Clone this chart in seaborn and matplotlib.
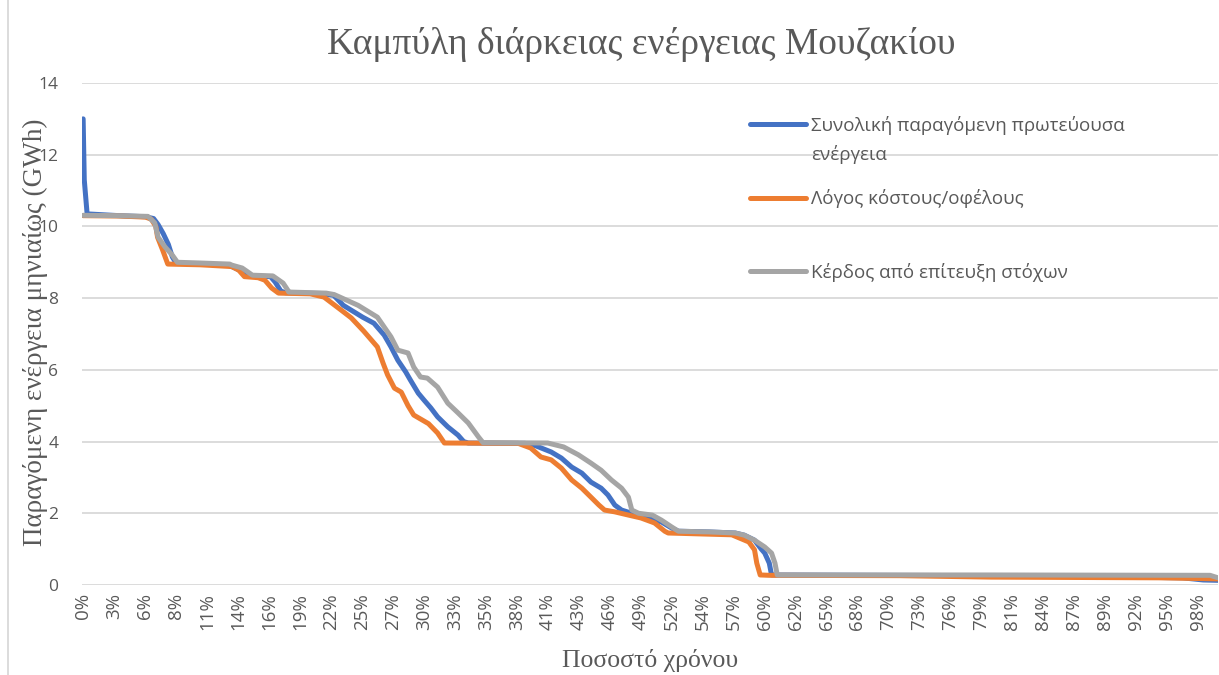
import numpy as np
import pandas as pd
import matplotlib
matplotlib.use("Agg")
import matplotlib.pyplot as plt
from matplotlib.lines import Line2D
import seaborn as sns

# ---------------- data ----------------
series_names = ["Συνολική παραγόμενη πρωτεύουσα",
                "Λόγος κόστους/οφέλους",
                "Κέρδος από επίτευξη στόχων"]
legend_second_line = "ενέργεια"

total_pct = [0.1, 0.2, 0.45, 3.3, 5.6, 6.3, 6.7, 7.15, 7.6, 7.95, 8.3, 10.4, 12.9, 13.6,
             14.5, 14.9, 16.6, 17.0, 17.5, 17.9, 21.0, 22.15, 23.0, 24.7, 25.7, 26.6,
             27.2, 27.8, 28.5, 28.9, 29.6, 30.1, 30.7, 31.3, 32.2, 33.1, 33.6, 34.0,
             39.0, 39.8, 41.3, 42.2, 43.1, 44.0, 44.8, 45.7, 46.3, 46.9, 47.5, 48.4,
             49.2, 51.0, 51.9, 52.5, 55.2, 57.5, 58.3, 59.2, 59.8, 60.1, 60.5, 60.7,
             70.0, 81.0, 90.0, 96.9, 98.7, 100.0]
total_val = [13.0, 11.3, 10.35, 10.30, 10.27, 10.22, 10.05, 9.8, 9.5, 9.15, 8.97, 8.95, 8.92, 8.82,
             8.68, 8.62, 8.60, 8.45, 8.2, 8.15, 8.13, 8.08, 7.8, 7.47, 7.3, 6.97,
             6.64, 6.27, 5.94, 5.72, 5.35, 5.16, 4.94, 4.69, 4.41, 4.18, 4.0, 3.96,
             3.95, 3.9, 3.71, 3.54, 3.29, 3.12, 2.87, 2.7, 2.51, 2.23, 2.09, 2.0,
             1.93, 1.76, 1.59, 1.5, 1.48, 1.45, 1.39, 1.25, 1.0, 0.89, 0.61, 0.28,
             0.27, 0.26, 0.23, 0.2, 0.14, 0.13]

ratio_pct = [0.1, 3.3, 5.6, 6.1, 6.5, 6.65, 7.1, 7.55, 10.4, 13.2, 13.8, 14.3, 15.5, 16.1,
             16.7, 17.3, 20.1, 21.3, 22.8, 23.7, 24.8, 26.0, 26.5, 26.9, 27.5, 28.1,
             28.7, 29.2, 30.5, 31.3, 31.9, 38.4, 39.5, 40.4, 41.3, 42.2, 43.1, 44.0,
             44.8, 45.5, 46.0, 46.9, 48.1, 49.2, 50.4, 51.3, 51.6, 57.2, 58.7, 59.2,
             59.4, 59.7, 60.5, 72.0, 80.0, 95.0, 100.0]
ratio_val = [10.30, 10.29, 10.26, 10.2, 10.0, 9.7, 9.34, 8.95, 8.93, 8.88, 8.78, 8.6, 8.57, 8.5,
             8.28, 8.14, 8.12, 8.03, 7.67, 7.45, 7.08, 6.64, 6.19, 5.86, 5.49, 5.38,
             5.0, 4.74, 4.5, 4.24, 3.96, 3.95, 3.82, 3.57, 3.49, 3.26, 2.93, 2.7,
             2.45, 2.23, 2.09, 2.04, 1.95, 1.87, 1.73, 1.5, 1.45, 1.4, 1.2, 0.98,
             0.61, 0.28, 0.27, 0.26, 0.22, 0.2, 0.17]

gain_pct = [0.1, 3.3, 5.8, 6.4, 6.7, 7.3, 7.95, 8.4, 10.4, 13.0, 13.2, 14.1, 14.6, 15.0,
            16.8, 17.7, 18.1, 18.2, 21.5, 22.2, 24.3, 26.0, 27.2, 27.8, 28.7, 29.2,
            29.8, 30.4, 31.3, 32.2, 33.1, 34.0, 34.9, 35.3, 41.0, 42.4, 43.7, 44.8,
            45.7, 46.6, 47.5, 48.1, 48.4, 49.0, 50.2, 51.0, 51.9, 52.5, 55.2, 57.5,
            58.3, 59.2, 60.1, 60.7, 61.0, 61.2, 80.0, 99.3, 100.0]
gain_val = [10.31, 10.30, 10.28, 10.1, 9.7, 9.43, 9.2, 9.0, 8.98, 8.95, 8.92, 8.84, 8.73, 8.64,
            8.62, 8.42, 8.23, 8.17, 8.14, 8.1, 7.8, 7.47, 6.92, 6.55, 6.47, 6.08,
            5.8, 5.77, 5.52, 5.07, 4.8, 4.52, 4.13, 3.97, 3.96, 3.85, 3.63, 3.4,
            3.2, 2.93, 2.7, 2.45, 2.09, 2.0, 1.95, 1.81, 1.62, 1.5, 1.48, 1.45,
            1.39, 1.25, 1.06, 0.89, 0.61, 0.28, 0.28, 0.27, 0.2]

x_tick_labels = ["0%", "3%", "6%", "8%", "11%", "14%", "16%", "19%", "22%", "25%", "27%",
                 "30%", "33%", "35%", "38%", "41%", "43%", "46%", "49%", "52%", "54%",
                 "57%", "60%", "62%", "65%", "68%", "70%", "73%", "76%", "79%", "81%",
                 "84%", "87%", "89%", "92%", "95%", "98%"]
y_ticks = [0, 2, 4, 6, 8, 10, 12, 14]

title = "Καμπύλη διάρκειας ενέργειας Μουζακίου"
x_title = "Ποσοστό χρόνου"
y_title = "Παραγόμενη ενέργεια μηνιαίως (GWh)"

colors = ["#4472C4", "#ED7D31", "#A5A5A5"]

# ---------------- build frame ----------------
df = pd.concat([
    pd.DataFrame({"pct": total_pct, "val": total_val, "series": series_names[0]}),
    pd.DataFrame({"pct": ratio_pct, "val": ratio_val, "series": series_names[1]}),
    pd.DataFrame({"pct": gain_pct, "val": gain_val, "series": series_names[2]}),
], ignore_index=True)

sns.set_theme(style="white")
SANS = ["Open Sans", "Noto Sans", "DejaVu Sans"]
SERIF = ["Liberation Serif", "DejaVu Serif"]
plt.rcParams["font.family"] = SANS

W, H = 1219, 675
fig = plt.figure(figsize=(W / 100, H / 100), dpi=100)
fig.patch.set_facecolor("white")
ax = fig.add_axes([82 / W, 90 / H, (1218 - 82) / W, (585 - 83) / H])

sns.lineplot(data=df, x="pct", y="val", hue="series", palette=colors,
             hue_order=series_names, estimator=None, sort=False,
             linewidth=3.6, ax=ax, legend=False)
for ln in ax.get_lines():
    ln.set_solid_joinstyle("round")
    ln.set_solid_capstyle("round")

ax.set_xlim(0, 100)
ax.set_ylim(0, 14)
ax.set_yticks(y_ticks)
ax.set_yticklabels([str(v) for v in y_ticks])
step = 100 / 36.67
ax.set_xticks(0.09 + step * np.arange(len(x_tick_labels)))
ax.set_xticklabels(x_tick_labels, rotation=90)
ax.tick_params(axis="both", length=0, colors="#595959")
ax.tick_params(axis="y", pad=17, labelsize=12.5)
ax.tick_params(axis="x", pad=6, labelsize=13.5)
for s in ax.spines.values():
    s.set_visible(False)
ax.grid(axis="y", color="#D9D9D9", linewidth=1.3)
ax.grid(axis="x", visible=False)
ax.set_axisbelow(True)
ax.set_xlabel("")
ax.set_ylabel("")

# titles
fig.text(641 / W, 1 - 45 / H, title, ha="center", va="center",
         family=SERIF, fontsize=27, color="#595959")
fig.text(650 / W, 1 - 661 / H, x_title, ha="center", va="center",
         family=SERIF, fontsize=18.5, color="#595959")
fig.text(35 / W, 1 - 332 / H, y_title, ha="center", va="center", rotation=90,
         family=SERIF, fontsize=19.5, color="#595959")

# legend
handles = [Line2D([], [], color=c, linewidth=3.6, solid_capstyle="round") for c in colors]
leg = ax.legend(handles, series_names, loc="upper left",
                bbox_to_anchor=(750 / W, 1 - 116 / H), bbox_transform=fig.transFigure,
                frameon=False, fontsize=13.5, handlelength=3.0, handletextpad=0.25,
                labelspacing=2.9, borderpad=0, borderaxespad=0, labelcolor="#595959")
fig.canvas.draw()
bb = leg.get_texts()[0].get_window_extent(fig.canvas.get_renderer())
fig.text(bb.x0 / W, (bb.y0 - 29) / H, legend_second_line, ha="left", va="bottom",
         fontsize=13.5, color="#595959", family=SANS)

# chart-area edge at left
fig.add_artist(Line2D([8 / W, 8 / W], [0, 1], transform=fig.transFigure,
                      color="#D9D9D9", linewidth=1.3))

fig.savefig("out.png", dpi=100)
